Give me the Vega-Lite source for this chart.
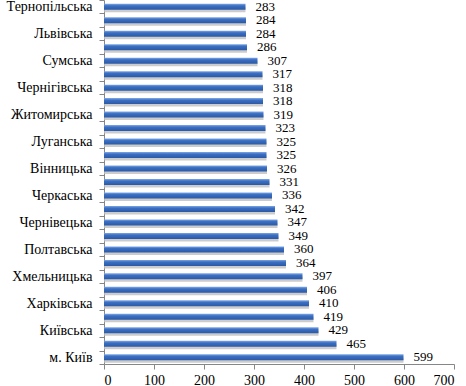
{
  "$schema": "https://vega.github.io/schema/vega-lite/v6.json",
  "width": 350,
  "height": 364,
  "autosize": {"type": "none"},
  "padding": {"left": 104, "top": 0, "right": 12, "bottom": 22},
  "background": "white",
  "config": {"view": {"stroke": null}},
  "data": {"values": [
    {"n": 1, "region": "Тернопільська", "v": 283},
    {"n": 2, "region": "Закарпатська", "v": 284},
    {"n": 3, "region": "Львівська", "v": 284},
    {"n": 4, "region": "Волинська", "v": 286},
    {"n": 5, "region": "Сумська", "v": 307},
    {"n": 6, "region": "Херсонська", "v": 317},
    {"n": 7, "region": "Чернігівська", "v": 318},
    {"n": 8, "region": "Кіровоградська", "v": 318},
    {"n": 9, "region": "Житомирська", "v": 319},
    {"n": 10, "region": "Рівненська", "v": 323},
    {"n": 11, "region": "Луганська", "v": 325},
    {"n": 12, "region": "Івано-Франківська", "v": 325},
    {"n": 13, "region": "Вінницька", "v": 326},
    {"n": 14, "region": "АР Крим", "v": 331},
    {"n": 15, "region": "Черкаська", "v": 336},
    {"n": 16, "region": "Миколаївська", "v": 342},
    {"n": 17, "region": "Чернівецька", "v": 347},
    {"n": 18, "region": "Одеська", "v": 349},
    {"n": 19, "region": "Полтавська", "v": 360},
    {"n": 20, "region": "м. Севастополь", "v": 364},
    {"n": 21, "region": "Хмельницька", "v": 397},
    {"n": 22, "region": "Запорізька", "v": 406},
    {"n": 23, "region": "Харківська", "v": 410},
    {"n": 24, "region": "Дніпропетровська", "v": 419},
    {"n": 25, "region": "Київська", "v": 429},
    {"n": 26, "region": "Донецька", "v": 465},
    {"n": 27, "region": "м. Київ", "v": 599}
  ]},
  "encoding": {
    "y": {
      "field": "region", "type": "nominal",
      "sort": {"field": "n", "order": "ascending"},
      "scale": {"paddingInner": 0, "paddingOuter": 0},
      "axis": {
        "title": null,
        "labelExpr": "indexof(['Тернопільська','Львівська','Сумська','Чернігівська','Житомирська','Луганська','Вінницька','Черкаська','Чернівецька','Полтавська','Хмельницька','Харківська','Київська','м. Київ'], datum.value) >= 0 ? datum.value : ''",
        "labelFont": "Liberation Serif, serif",
        "labelFontSize": 14,
        "labelFontWeight": "normal",
        "labelColor": "#000000",
        "labelPadding": 7,
        "tickBand": "extent",
        "tickSize": 5,
        "tickColor": "#868686",
        "domainColor": "#868686",
        "grid": false
      }
    },
    "x": {
      "field": "v", "type": "quantitative",
      "scale": {"domain": [0, 700], "nice": false},
      "axis": {
        "title": null,
        "values": [0, 100, 200, 300, 400, 500, 600, 700],
        "labelFont": "Liberation Serif, serif",
        "labelFontSize": 14,
        "labelFontWeight": "normal",
        "labelColor": "#000000",
        "labelPadding": 4,
        "tickSize": 5,
        "tickColor": "#868686",
        "domainColor": "#868686",
        "grid": false
      }
    }
  },
  "layer": [
    {
      "mark": {"type": "bar", "size": 5, "yOffset": 3, "color": "#bfbfbf", "opacity": 0.8}
    },
    {
      "mark": {
        "type": "bar", "size": 6,
        "color": {
          "gradient": "linear", "x1": 0, "y1": 0, "x2": 0, "y2": 1,
          "stops": [
            {"offset": 0, "color": "#7fa8e6"},
            {"offset": 0.35, "color": "#3c6fc2"},
            {"offset": 1, "color": "#2a59a6"}
          ]
        }
      }
    },
    {
      "mark": {"type": "text", "align": "left", "baseline": "middle", "dx": 10, "dy": 0, "font": "Liberation Serif, serif", "fontSize": 13, "color": "#000000"},
      "encoding": {"text": {"field": "v", "type": "quantitative"}}
    }
  ]
}
